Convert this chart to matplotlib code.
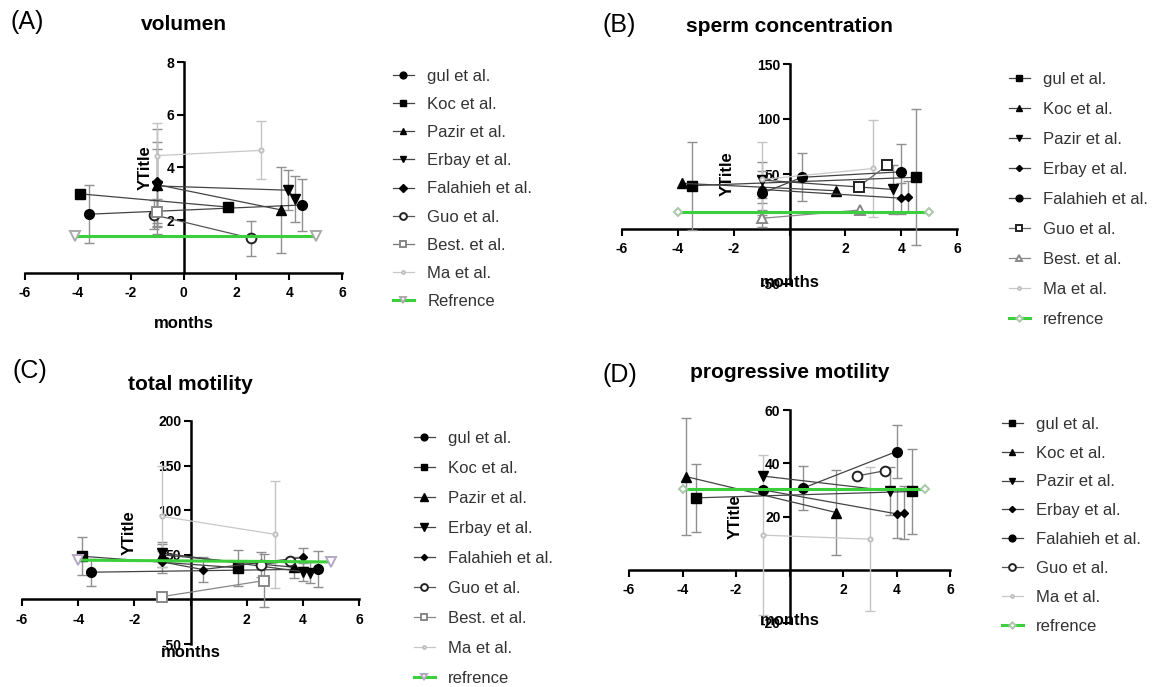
import matplotlib
matplotlib.use('Agg')
import matplotlib.pyplot as plt

plt.rcParams['font.family'] = ['Liberation Sans', 'DejaVu Sans']

W, H = 1161, 687

# ---- data (months, mean, sd) ----
xticks = [-6, -4, -2, 0, 2, 4, 6]

# (A) volumen
vol_labels = ['gul et al.', 'Koc et al.', 'Pazir et al.', 'Erbay et al.', 'Falahieh et al.',
              'Guo et al.', 'Best. et al.', 'Ma et al.', 'Refrence']
vol_x = [[-3.56, 4.5], [-3.9, 1.67], [-1.0, 3.7], [-1.0, 3.95, 4.23], [-1.0],
         [-1.1, 2.55], [-1.0], [-1.0, 2.95], [-4.1, 5.0]]
vol_y = [[2.23, 2.58], [3.0, 2.5], [3.35, 2.39], [3.3, 3.14, 2.8], [3.46],
         [2.2, 1.32], [2.3], [4.45, 4.65], [1.4, 1.4]]
vol_err = [[1.1, 1.0], [0, 0], [1.6, 1.62], [1.4, 0.75, 0.87], [2.0],
           [0.55, 0.66], [0.5], [1.25, 1.1], [0, 0]]
vol_yticks = [2, 4, 6, 8]

# (B) sperm concentration
conc_labels = ['gul et al.', 'Koc et al.', 'Pazir et al.', 'Erbay et al.', 'Falahieh et al.',
               'Guo et al.', 'Best. et al.', 'Ma et al.', 'refrence']
conc_x = [[-3.5, 4.52], [-3.85, 1.67], [-1.0, 3.7], [-1.0, 4.0, 4.25], [-1.0, 0.45, 4.0],
          [2.48, 3.5], [-1.0, 2.54], [-1.0, 3.0], [-4.0, 5.0]]
conc_y = [[39.4, 47], [41.5, 34.8], [44.5, 36], [36, 28, 29.5], [32.4, 47, 52],
          [38.5, 58], [9.7, 17.3], [45, 55], [15, 15]]
conc_err = [[40, 62], [0, 0], [16, 22], [12, 14, 14], [20, 22, 25],
            [0, 0], [8, 0], [34, 44], [0, 0]]
conc_yticks = [-50, 50, 100, 150]

# (C) total motility
tot_labels = ['gul et al.', 'Koc et al.', 'Pazir et al.', 'Erbay et al.', 'Falahieh et al.',
              'Guo et al.', 'Best. et al.', 'Ma et al.', 'refrence']
tot_x = [[-3.54, 4.55], [-3.87, 1.7], [-1.03, 3.7], [-1.0, 4.0, 4.25], [-1.0, 0.43, 4.0],
         [2.5, 3.54], [-1.03, 2.6], [-1.0, 3.0], [-4.0, 5.0]]
tot_y = [[30.5, 34], [48.4, 35.4], [50, 36], [52, 31, 30], [42, 33.5, 47],
         [39, 43], [3, 21], [93, 73], [44, 42]]
tot_err = [[15, 20], [21, 20], [14, 12], [10, 10, 12], [12, 14, 11],
           [14, 0], [0, 30], [57, 60], [0, 0]]
tot_yticks = [-50, 50, 100, 150, 200]

# (D) progressive motility
prog_labels = ['gul et al.', 'Koc et al.', 'Pazir et al.', 'Erbay et al.', 'Falahieh et al.',
               'Guo et al.', 'Ma et al.', 'refrence']
prog_x = [[-3.5, 4.57], [-3.87, 1.74], [-1.0, 3.76], [-1.0, 4.0, 4.29], [-1.0, 0.49, 4.0],
          [2.51, 3.57], [-1.0, 3.0], [-4.0, 5.07]]
prog_y = [[27, 29.4], [35, 21.5], [35.2, 29.6], [30, 21, 21.5], [29.8, 30.6, 44.4],
          [35.2, 37.2], [13, 11.5], [30.3, 30.3]]
prog_err = [[12.7, 15.8], [22, 16], [0, 9], [0, 9, 10], [0, 8.3, 10],
            [0, 0], [30, 27], [0, 0]]
prog_yticks = [-20, 20, 40, 60]

# ---- styles: (marker, size, face, edge, line colour) ----
BLK = 'black'
GRN = '#3ccf3c'
ma_style = ('o', 3, 'white', '#c0c0c0', '#c8c8c8')
styles_A = [('o', 7, BLK, BLK, '#444'), ('s', 7, BLK, BLK, '#444'), ('^', 7, BLK, BLK, '#444'),
            ('v', 7, BLK, BLK, '#444'), ('D', 5.5, BLK, BLK, '#444'), ('o', 7, 'white', '#222', '#555'),
            ('s', 7, 'white', '#888', '#777'), ma_style, ('v', 7, 'white', '#aaaaaa', GRN)]
styles_B = [('s', 7, BLK, BLK, '#444'), ('^', 6.5, BLK, BLK, '#444'), ('v', 6.5, BLK, BLK, '#444'),
            ('D', 4.5, BLK, BLK, '#444'), ('o', 7, BLK, BLK, '#444'), ('s', 7, 'white', '#222', '#666'),
            ('^', 6.5, 'white', '#888', '#888'), ma_style, ('D', 4.5, 'white', '#a8c8a8', GRN)]
styles_C = [('o', 7, BLK, BLK, '#444'), ('s', 7, BLK, BLK, '#444'), ('^', 7.5, BLK, BLK, '#444'),
            ('v', 7.5, BLK, BLK, '#444'), ('D', 4.5, BLK, BLK, '#444'), ('o', 7, 'white', '#222', '#555'),
            ('s', 7, 'white', '#888', '#888'), ma_style, ('v', 7, 'white', '#b4a8c4', GRN)]
styles_D = [('s', 7, BLK, BLK, '#444'), ('^', 6.5, BLK, BLK, '#444'), ('v', 6.5, BLK, BLK, '#444'),
            ('D', 4.5, BLK, BLK, '#444'), ('o', 7, BLK, BLK, '#444'), ('o', 7, 'white', '#222', '#555'),
            ma_style, ('D', 4.5, 'white', '#a8c8a8', GRN)]


def px_axes(fig, left, right, top, bottom):
    return fig.add_axes([left / W, 1 - bottom / H, (right - left) / W, (bottom - top) / H])


def panel(fig, box, ylim, yticks, title, letter, letter_xy, labels, xs, ys, errs, styles,
          xlabels, ylab_x, xlab_y, leg_xy, leg_space):
    ax = px_axes(fig, *box)
    handles = []
    n = len(labels)
    for i in range(n):
        mk, ms, fc, ec, lc = styles[i]
        is_ref = i == n - 1
        is_ma = labels[i].startswith('Ma')
        ecol = '#c4c4c4' if is_ma else '#8f8f8f'
        ex = [x for x, e in zip(xs[i], errs[i]) if e > 0]
        ey = [y for y, e in zip(ys[i], errs[i]) if e > 0]
        ee = [e for e in errs[i] if e > 0]
        if ee:
            ax.errorbar(ex, ey, yerr=ee, fmt='none', ecolor=ecol, elinewidth=1,
                        capsize=3.5, capthick=1, zorder=2.6)
        ln, = ax.plot(xs[i], ys[i], color=lc, lw=2.2 if is_ref else 0.9,
                      marker=mk, ms=ms, mfc=fc, mec=ec, mew=1.4 if fc == 'white' else 1,
                      zorder=4 if is_ref else 3)
        handles.append(ln)

    ax.set_xlim(-6, 6)
    ax.set_ylim(*ylim)
    for s in ['top', 'right']:
        ax.spines[s].set_visible(False)
    ax.spines['left'].set_position(('data', 0))
    ax.spines['bottom'].set_position(('data', 0))
    for s in ['left', 'bottom']:
        ax.spines[s].set_linewidth(1.8)
    ax.set_xticks(xticks)
    ax.set_xticklabels(xlabels, fontweight='bold', fontsize=10)
    ax.set_yticks(yticks)
    ax.set_yticklabels([str(t) for t in yticks], fontweight='bold', fontsize=10)
    ax.tick_params(axis='x', direction='out', length=5, width=1.5, pad=4.5)
    ax.tick_params(axis='y', direction='out', length=5, width=1.5, pad=1.5)
    ax.patch.set_visible(False)

    ax.set_ylabel('YTitle', fontweight='bold', fontsize=12)
    ax.yaxis.set_label_coords(ylab_x, 0.5)
    ax.set_xlabel('months', fontweight='bold', fontsize=12)
    ax.xaxis.set_label_coords(0.5, xlab_y)

    ax_h = box[3] - box[2]
    ax.text(0.5, 1 + 37.0 / ax_h, title, transform=ax.transAxes, ha='center', va='center',
            fontsize=15, fontweight='bold')
    fig.text(letter_xy[0] / W, 1 - letter_xy[1] / H, letter, ha='left', va='center', fontsize=18)

    fig.legend(handles, labels, loc='upper left', bbox_to_anchor=(leg_xy[0] / W, 1 - leg_xy[1] / H),
               frameon=False, fontsize=12, handlelength=1.25, handletextpad=0.8,
               labelspacing=leg_space, borderpad=0, borderaxespad=0, markerscale=0.7,
               labelcolor='#333333')
    return ax


fig = plt.figure(figsize=(W / 100, H / 100), dpi=100)

xl_full = ['-6', '-4', '-2', '0', '2', '4', '6']
xl_gap = ['-6', '-4', '-2', '', '2', '4', '6']

panel(fig, (25, 342, 62, 273), (0, 8), vol_yticks, 'volumen', '(A)', (10, 22),
      vol_labels, vol_x, vol_y, vol_err, styles_A, xl_full, 0.404, -0.204, (393, 68.7), 0.79)
panel(fig, (622, 957, 64, 284), (-50, 150), conc_yticks, 'sperm concentration', '(B)', (602, 25),
      conc_labels, conc_x, conc_y, conc_err, styles_B, xl_gap, 0.337, 0.041, (1009, 71.7), 0.90)
panel(fig, (22, 359, 421, 644), (-50, 200), tot_yticks, 'total motility', '(C)', (12, 371),
      tot_labels, tot_x, tot_y, tot_err, styles_C, xl_gap, 0.340, -0.004, (414, 430.7), 0.90)
panel(fig, (629, 950, 410, 623), (-20, 60), prog_yticks, 'progressive motility', '(D)', (602, 375),
      prog_labels, prog_x, prog_y, prog_err, styles_D, xl_gap, 0.355, 0.047, (1002, 416.7), 0.83)

fig.savefig('out.png', dpi=100)
